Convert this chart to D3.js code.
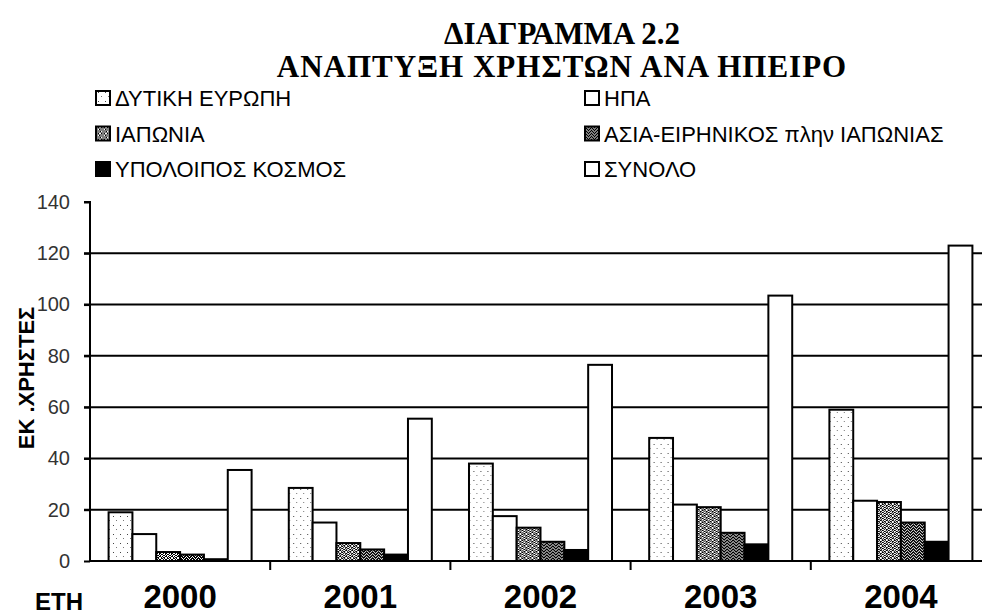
<!DOCTYPE html>
<html><head><meta charset="utf-8">
<script src="https://cdn.jsdelivr.net/npm/d3@7/dist/d3.min.js"></script>
<style>body{margin:0;background:#fff}svg{display:block}</style>
</head><body><svg id="c" width="982" height="614"></svg>
<script>
const years = ["2000","2001","2002","2003","2004"];
const seriesNames = ["ΔΥΤΙΚΗ ΕΥΡΩΠΗ","ΗΠΑ","ΙΑΠΩΝΙΑ","ΑΣΙΑ-ΕΙΡΗΝΙΚΟΣ πλην ΙΑΠΩΝΙΑΣ","ΥΠΟΛΟΙΠΟΣ ΚΟΣΜΟΣ","ΣΥΝΟΛΟ"];
const westernEurope = [19, 28.5, 38, 48, 59];
const usa = [10.5, 15, 17.5, 22, 23.5];
const japan = [3.5, 7, 13, 21, 23];
const asiaPacific = [2.5, 4.5, 7.5, 11, 15];
const restOfWorld = [0.7, 2.5, 4.3, 6.5, 7.5];
const total = [35.5, 55.5, 76.5, 103.5, 123];
const yTicks = [0, 20, 40, 60, 80, 100, 120, 140];
const titleLines = ["ΔΙΑΓΡΑΜΜΑ 2.2", "ΑΝΑΠΤΥΞΗ ΧΡΗΣΤΩΝ ΑΝΑ ΗΠΕΙΡΟ"];
const yTitle = "ΕΚ .ΧΡΗΣΤΕΣ";
const xTitle = "ΕΤΗ";

const seriesValues = [westernEurope, usa, japan, asiaPacific, restOfWorld, total];
const fills = ["url(#dots)", "#ffffff", "url(#speckA)", "url(#speckB)", "#000000", "#ffffff"];

const svg = d3.select("#c");
const defs = svg.append("defs");
// texture patterns (styling only)
const dots = defs.append("pattern").attr("id","dots").attr("patternUnits","userSpaceOnUse").attr("width",7).attr("height",9);
dots.append("rect").attr("width",7).attr("height",9).attr("fill","#fff");
dots.append("rect").attr("x",2).attr("y",3).attr("width",1).attr("height",1).attr("fill","#444");
dots.append("rect").attr("x",5).attr("y",7).attr("width",1).attr("height",1).attr("fill","#777");
function speck(id, bits){
  const n = bits.length;
  const p = defs.append("pattern").attr("id",id).attr("patternUnits","userSpaceOnUse").attr("width",n).attr("height",n);
  p.append("rect").attr("width",n).attr("height",n).attr("fill","#fff");
  bits.forEach((row,r)=>row.split("").forEach((c,k)=>{ if(c==="1") p.append("rect").attr("x",k).attr("y",r).attr("width",1).attr("height",1).attr("fill","#000"); }));
}
speck("speckA", ["101001","010110","100101","011010","100110","011001"]);
speck("speckB", ["110101","011011","101110","110101","011011","101110"]);

const x = d3.scaleBand().domain(years).range([90, 991]).paddingInner(0).paddingOuter(0);
const xs = d3.scaleBand().domain(seriesNames).range([0, x.bandwidth()]).paddingInner(0).paddingOuter(0.78);
const y = d3.scaleLinear().domain([0, 140]).range([561, 202]);

// gridlines
svg.append("g").selectAll("line").data(yTicks.filter(t => t > 0 && t < 140)).join("line")
  .attr("x1", 84).attr("x2", 991).attr("y1", d => y(d)).attr("y2", d => y(d))
  .attr("stroke", "#000").attr("stroke-width", 2);

// bars
const groups = svg.append("g").selectAll("g").data(years).join("g")
  .attr("transform", d => `translate(${x(d)},0)`);
groups.selectAll("rect").data((yr, i) => seriesNames.map((s, j) => ({s, j, v: seriesValues[j][i]}))).join("rect")
  .attr("x", d => xs(d.s)).attr("width", xs.bandwidth())
  .attr("y", d => y(d.v)).attr("height", d => y(0) - y(d.v))
  .attr("fill", d => fills[d.j]).attr("stroke", "#000").attr("stroke-width", 2);

// y axis
const yAxis = d3.axisLeft(y).tickValues(yTicks).tickSize(6).tickPadding(14);
const gy = svg.append("g").attr("transform", "translate(90,0)").call(yAxis);
gy.select(".domain").attr("stroke", "#000").attr("stroke-width", 2).attr("d", `M-6,${y(140)}H0V${y(0)}`);
gy.selectAll(".tick line").attr("stroke", "#000").attr("stroke-width", 2);
gy.selectAll(".tick text").attr("font-family", "'Liberation Sans Narrow','Liberation Sans',Arial,sans-serif")
  .attr("font-size", 20).attr("fill", "#333");

// x axis
const xAxis = d3.axisBottom(x).tickSize(0).tickPadding(30);
const gx = svg.append("g").attr("transform", `translate(0,${y(0)})`).call(xAxis);
gx.select(".domain").attr("stroke", "#000").attr("stroke-width", 2).attr("d", "M90,0H991");
gx.selectAll(".tick text").attr("font-family", "'Liberation Sans',Arial,sans-serif")
  .attr("font-weight", "bold").attr("font-size", 33).attr("fill", "#000").attr("dy", "0.52em");
svg.append("g").selectAll("line").data(years.slice(1)).join("line")
  .attr("x1", d => x(d)).attr("x2", d => x(d)).attr("y1", y(0)).attr("y2", y(0) + 9)
  .attr("stroke", "#000").attr("stroke-width", 2);

// axis titles
svg.append("text").text(xTitle).attr("x", 35).attr("y", 610)
  .attr("font-family", "'Liberation Sans',Arial,sans-serif").attr("font-weight", "bold").attr("font-size", 24);
svg.append("text").text(yTitle).attr("transform", "translate(34,378) rotate(-90)").attr("text-anchor", "middle")
  .attr("font-family", "'Liberation Sans',Arial,sans-serif").attr("font-weight", "bold").attr("font-size", 22);

// title
svg.append("g").selectAll("text").data(titleLines).join("text")
  .text(d => d).attr("x", 562).attr("y", (d, i) => 44 + i * 33).attr("text-anchor", "middle")
  .attr("letter-spacing", (d, i) => i === 1 ? 1 : 0)
  .attr("font-family", "'Liberation Serif','Times New Roman',serif").attr("font-weight", "bold").attr("font-size", 31);

// legend
const leg = svg.append("g").selectAll("g").data(seriesNames).join("g")
  .attr("transform", (d, i) => `translate(${i % 2 === 0 ? 96 : 585},${98 + Math.floor(i / 2) * 35.5})`);
leg.append("rect").attr("x", 0).attr("y", -7).attr("width", 14).attr("height", 14)
  .attr("fill", (d, i) => fills[i]).attr("stroke", "#000").attr("stroke-width", 2);
leg.append("text").text(d => d).attr("x", 19).attr("y", 8)
  .attr("font-family", "'Liberation Sans',Arial,sans-serif").attr("font-size", 22);
</script></body></html>
